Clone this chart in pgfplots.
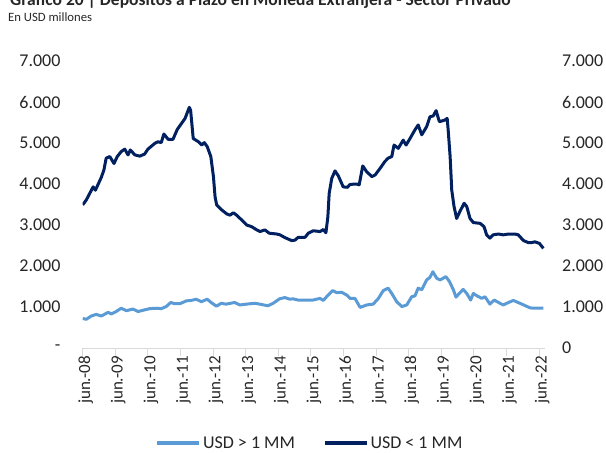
\documentclass[border=0pt]{standalone}
\usepackage{pgfplots}
\pgfplotsset{compat=1.18}
\usepackage{pgfplotstable}
\usepackage{fontspec}
\setmainfont{Carlito}
\definecolor{lightb}{HTML}{5B9BD5}
\definecolor{darkb}{HTML}{002060}
\definecolor{txt}{HTML}{262626}
\pgfplotstableread{
t v
0 720
0.11 700
0.26 780
0.42 820
0.57 780
0.78 870
0.88 830
1.03 890
1.18 970
1.34 910
1.54 950
1.70 890
1.90 930
2.06 960
2.26 970
2.41 960
2.56 1010
2.70 1110
2.82 1080
2.98 1080
3.18 1150
3.33 1160
3.48 1190
3.64 1130
3.82 1190
3.94 1110
4.10 1020
4.25 1090
4.40 1070
4.66 1110
4.82 1050
5.02 1070
5.28 1090
5.43 1070
5.68 1030
5.84 1090
6.04 1200
6.20 1230
6.35 1190
6.45 1200
6.60 1170
6.91 1170
7.07 1170
7.28 1210
7.38 1160
7.48 1250
7.67 1400
7.79 1350
7.94 1360
8.10 1290
8.20 1210
8.35 1210
8.51 990
8.71 1050
8.91 1070
9.07 1210
9.22 1400
9.37 1460
9.48 1330
9.63 1130
9.79 1010
9.94 1050
10.09 1250
10.19 1270
10.29 1460
10.40 1420
10.55 1660
10.65 1720
10.74 1860
10.86 1700
10.96 1660
11.14 1740
11.25 1620
11.37 1420
11.45 1240
11.55 1330
11.67 1430
11.78 1330
11.90 1170
11.98 1330
12.10 1270
12.24 1210
12.34 1250
12.49 1070
12.62 1170
12.80 1090
12.90 1050
13.06 1110
13.21 1160
13.47 1070
13.72 980
13.82 970
14.13 970
}\big
\pgfplotstableread{
t v
0 3490
0.11 3610
0.32 3930
0.39 3850
0.57 4160
0.65 4340
0.72 4630
0.83 4670
0.96 4500
1.06 4670
1.18 4790
1.29 4850
1.39 4710
1.46 4830
1.60 4710
1.75 4680
1.90 4730
2.00 4850
2.21 4990
2.31 5030
2.41 5010
2.49 5220
2.62 5090
2.77 5090
2.90 5330
3.14 5600
3.27 5870
3.31 5800
3.39 5110
3.55 5030
3.65 4950
3.73 5010
3.82 4910
3.93 4670
4.01 4180
4.06 3690
4.11 3490
4.26 3370
4.42 3270
4.52 3240
4.62 3300
4.72 3240
4.88 3120
5.03 3000
5.18 2960
5.34 2880
5.44 2840
5.59 2880
5.72 2800
5.95 2780
6.05 2760
6.21 2690
6.41 2620
6.51 2630
6.61 2700
6.82 2700
6.92 2800
7.07 2860
7.28 2840
7.38 2890
7.46 2810
7.52 3200
7.56 3770
7.64 4140
7.74 4320
7.84 4200
7.99 3930
8.12 3920
8.20 3990
8.40 4000
8.48 3980
8.59 4440
8.71 4300
8.87 4180
8.97 4220
9.12 4380
9.27 4550
9.37 4630
9.48 4670
9.55 4950
9.68 4870
9.83 5070
9.92 4950
10.04 5110
10.19 5320
10.29 5440
10.40 5200
10.55 5400
10.65 5640
10.75 5660
10.84 5790
10.94 5520
11.11 5560
11.18 5600
11.21 5320
11.27 4670
11.32 3850
11.39 3450
11.47 3160
11.57 3330
11.70 3530
11.78 3450
11.88 3160
11.98 3060
12.19 3040
12.31 2960
12.39 2760
12.49 2680
12.59 2760
12.75 2780
12.90 2760
13.06 2780
13.26 2780
13.36 2760
13.52 2620
13.67 2570
13.77 2570
13.87 2590
14.01 2550
14.13 2430
}\small
\begin{document}
\begin{tikzpicture}
\useasboundingbox (-82.7pt,-105pt) rectangle (523.3pt,348pt);
\node[anchor=base west, font=\fontsize{17.5}{20}\selectfont\bfseries, text=txt, inner sep=0pt] at (-72.7pt,342pt) {Gráfico 20 | Depósitos a Plazo en Moneda Extranjera - Sector Privado};
\node[anchor=base west, font=\fontsize{12.7}{15}\selectfont, text=txt, inner sep=0pt] at (-74.7pt,326pt) {En USD millones};
\begin{axis}[
  scale only axis, width=462.3pt, height=287pt,
  xmin=0, xmax=14.18, ymin=0, ymax=7000,
  axis x line*=bottom, axis y line*=left,
  y axis line style={draw=none},
  x axis line style={draw=black!15, line width=0.9pt},
  xtick={0,1,...,14},
  xticklabels={jun.-08,jun.-09,jun.-10,jun.-11,jun.-12,jun.-13,jun.-14,jun.-15,jun.-16,jun.-17,jun.-18,jun.-19,jun.-20,jun.-21,jun.-22},
  xtick style={draw=black!15, line width=0.9pt},
  tick align=outside, major tick length=8pt,
  xticklabel style={rotate=90, anchor=east, font=\fontsize{17}{20}\selectfont, text=txt, inner sep=0pt},
  ytick={0,1000,...,7000},
  yticklabels={-\hspace{8pt},1.000,2.000,3.000,4.000,5.000,6.000,7.000},
  ytick style={draw=none},
  yticklabel style={font=\fontsize{18}{21}\selectfont, text=txt, inner sep=0pt},
  every x tick label/.append style={yshift=-3pt},
  y tick label style={xshift=-14pt},
  legend columns=2,
  legend style={draw=none, at={(0.4917,-0.331)}, anchor=center, font=\fontsize{18}{21}\selectfont, text=txt, column sep=0pt, /tikz/every even column/.append style={column sep=26pt}},
  legend image code/.code={\draw[#1, line width=3.5pt] (0pt,0pt) -- (42pt,0pt);},
]
\addplot[lightb, line width=3pt, line join=round] table[x=t,y=v] {\big};
\addlegendentry{USD > 1 MM}
\addplot[darkb, line width=3pt, line join=round] table[x=t,y=v] {\small};
\addlegendentry{USD < 1 MM}
\end{axis}
\begin{axis}[
  scale only axis, width=462.3pt, height=287pt,
  xmin=0, xmax=14.18, ymin=0, ymax=7000,
  axis x line=none, axis y line*=right,
  y axis line style={draw=none},
  ytick={0,1000,...,7000},
  yticklabels={0,1.000,2.000,3.000,4.000,5.000,6.000,7.000},
  ytick style={draw=none},
  yticklabel style={font=\fontsize{18}{21}\selectfont, text=txt, inner sep=0pt, anchor=west, xshift=17pt},
]
\end{axis}
\end{tikzpicture}
\end{document}
